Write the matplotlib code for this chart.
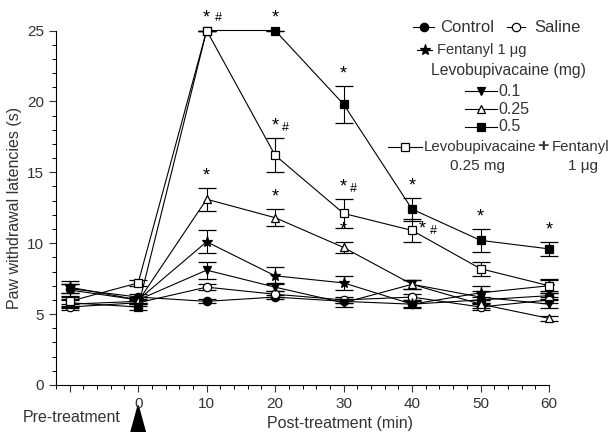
import numpy as np
import matplotlib
matplotlib.use("Agg")
import matplotlib.pyplot as plt
from matplotlib.lines import Line2D
from matplotlib.patches import Polygon

plt.rcParams['font.family'] = ['Liberation Sans', 'DejaVu Sans']

# zaman noktalari (dk), -10 = tedavi oncesi
zaman = [-10, 0, 10, 20, 30, 40, 50, 60]

control = [6.8, 6.2, 5.9, 6.2, 5.9, 5.7, 6.0, 6.3]
saline = [5.5, 5.8, 6.9, 6.4, 6.0, 6.2, 5.5, 6.0]
fentanyl = [6.9, 6.0, 10.1, 7.7, 7.2, 5.7, 6.5, 7.0]
levo01 = [6.7, 6.0, 8.1, 6.9, 5.8, 7.1, 6.2, 5.7]
levo025 = [5.7, 5.9, 13.1, 11.8, 9.7, 7.1, 5.7, 4.7]
levo05 = [5.8, 5.5, 25.0, 25.0, 19.8, 12.4, 10.2, 9.6]
combo = [5.9, 7.2, 25.0, 16.2, 12.1, 10.9, 8.2, 7.0]

control_err = [0.3, 0.2, 0.15, 0.15, 0.15, 0.2, 0.2, 0.2]
saline_err = [0.2, 0.2, 0.2, 0.2, 0.2, 0.2, 0.2, 0.2]
fentanyl_err = [0.4, 0.2, 0.8, 0.6, 0.5, 0.3, 0.5, 0.4]
levo01_err = [0.4, 0.2, 0.6, 0.3, 0.3, 0.3, 0.4, 0.3]
levo025_err = [0.3, 0.2, 0.8, 0.6, 0.4, 0.3, 0.3, 0.2]
levo05_err = [0.3, 0.2, 0.0, 0.0, 1.3, 0.8, 0.8, 0.5]
combo_err = [0.3, 0.2, 0.0, 1.2, 1.0, 0.8, 0.5, 0.5]

# anlamlilik isaretleri: (seri, indeks, metin) - "*#>" = sag tarafta
isaretler = [("combo", 2, "* #"), ("levo05", 3, "*"), ("combo", 3, "*#"),
             ("levo05", 4, "*"), ("levo025", 2, "*"), ("levo025", 3, "*"),
             ("combo", 4, "*#"), ("levo025", 4, "*"), ("levo05", 5, "*"),
             ("combo", 5, "*#>"), ("levo05", 6, "*"), ("levo05", 7, "*")]

seriler = {
    "control": (control, control_err, "o", "black"),
    "saline": (saline, saline_err, "o", "white"),
    "fentanyl": (fentanyl, fentanyl_err, "*", "black"),
    "levo01": (levo01, levo01_err, "v", "black"),
    "levo025": (levo025, levo025_err, "^", "white"),
    "levo05": (levo05, levo05_err, "s", "black"),
    "combo": (combo, combo_err, "s", "white"),
}

fig = plt.figure(figsize=(6.1, 4.32), dpi=100)
W, H = 610.0, 432.0
ax = fig.add_axes([56 / W, 1 - 385 / H, (549 - 56) / W, (385 - 30.5) / H])

for ad, (deger, hata, mk, renk) in seriler.items():
    ms = 8 if mk == "*" else 6
    ax.errorbar(zaman, deger, yerr=hata, color="black", lw=0.8, elinewidth=0.8,
                capsize=6.5, capthick=0.8, marker=mk, ms=ms, mfc=renk, mec="black",
                mew=0.9, clip_on=False, zorder=3)

for ad, i, metin in isaretler:
    deger, hata = seriler[ad][0], seriler[ad][1]
    if metin == "*#>":
        ax.text(zaman[i] + 1.0, deger[i] + 0.1, "*", ha="left", va="center", fontsize=13)
        ax.text(zaman[i] + 2.6, deger[i] - 0.05, "#", ha="left", va="center", fontsize=9)
        continue
    y = deger[i] + hata[i] + 0.25
    ax.text(zaman[i], y, "*", ha="center", va="bottom", fontsize=13)
    if metin == "* #":
        ax.text(zaman[i] + 1.7, y + 0.2, "#", ha="center", va="bottom", fontsize=9)
    elif metin == "*#":
        ax.text(zaman[i] + 1.5, y + 0.05, "#", ha="center", va="bottom", fontsize=9)

ax.set_xlim(-12, 60)
ax.set_ylim(0, 25)
ax.spines['top'].set_visible(False)
ax.spines['right'].set_visible(False)
ax.set_xticks([-10, 0, 10, 20, 30, 40, 50, 60])
ax.set_xticklabels(["", "0", "10", "20", "30", "40", "50", "60"])
ax.set_xticks(np.arange(-12, 61, 2), minor=True)
ax.set_yticks([0, 5, 10, 15, 20, 25])
ax.set_yticks(np.arange(0, 26, 1), minor=True)
ax.tick_params(which="major", length=5, width=0.8, labelsize=11, colors="#333333")
ax.tick_params(which="minor", length=3, width=0.7)
ax.set_ylabel("Paw withdrawal latencies (s)", fontsize=11.5, color="#333333", labelpad=4)

ax.text(0.576, -0.11, "Post-treatment (min)", transform=ax.transAxes,
        ha="center", va="center", fontsize=11.5, color="#333333")
fig.text(72 / W, 1 - 418 / H, "Pre-treatment", ha="center", va="center",
         fontsize=11.5, color="#333333")
ok = Polygon([(-1.1, -3.4), (1.1, -3.4), (0, -1.45)], closed=True,
             color="black", clip_on=False)
ax.add_patch(ok)

# el yapimi lejant
def px(x, y):
    return x / W, 1 - y / H

def lej_cizgi(x0, x1, y, mk, renk, ms=6):
    fx0, fy = px(x0, y)
    fx1, _ = px(x1, y)
    fig.add_artist(Line2D([fx0, fx1], [fy, fy], color="black", lw=0.8,
                          transform=fig.transFigure))
    fig.add_artist(Line2D([(fx0 + fx1) / 2], [fy], marker=mk, ms=ms, mfc=renk,
                          mec="black", mew=0.9, transform=fig.transFigure))

def lej_yazi(x, y, s, fs=11, ha="left", **kw):
    fx, fy = px(x, y)
    fig.text(fx, fy, s, ha=ha, va="center", fontsize=fs, color="#333333", **kw)

lej_cizgi(413, 434, 27, "o", "black")
lej_yazi(440, 27, "Control", fs=12)
lej_cizgi(507, 525, 27, "o", "white")
lej_yazi(534, 27, "Saline", fs=12)
lej_cizgi(417, 432, 50, "*", "black", ms=8)
lej_yazi(437, 50, "Fentanyl 1 \u03bcg", fs=10.5)
lej_yazi(431, 70, "Levobupivacaine (mg)", fs=11.3)
lej_cizgi(465, 497, 91, "v", "black")
lej_yazi(498, 91, "0.1", fs=11.5)
lej_cizgi(465, 497, 109, "^", "white")
lej_yazi(498, 109, "0.25", fs=11.5)
lej_cizgi(465, 497, 127, "s", "black")
lej_yazi(498, 127, "0.5", fs=11.5)
lej_cizgi(388, 422, 147, "s", "white")
lej_yazi(424, 147, "Levobupivacaine", fs=10.8)
lej_yazi(543, 147, "+", fs=14, ha="center", fontweight="bold")
lej_yazi(552, 147, "Fentanyl", fs=10.8)
lej_yazi(477, 166, "0.25 mg", fs=11, ha="center")
lej_yazi(583, 166, "1 \u03bcg", fs=11, ha="center")

fig.savefig("out.png", dpi=100)
